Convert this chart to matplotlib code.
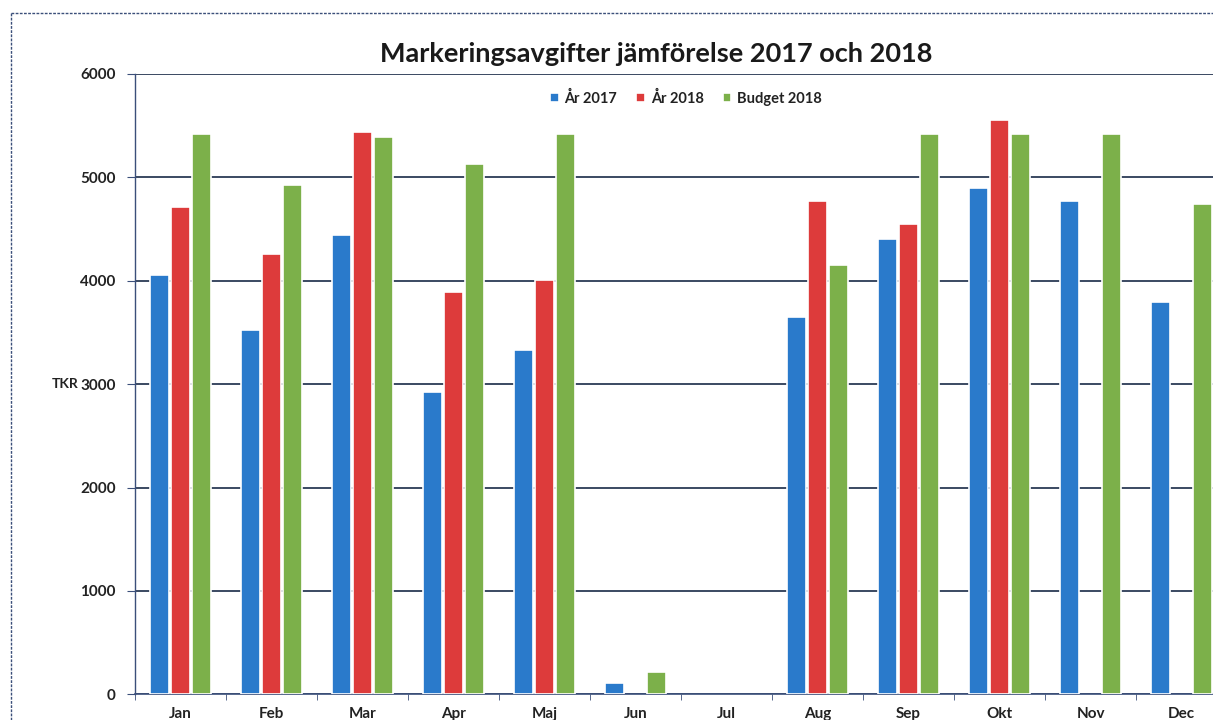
import numpy as np
import matplotlib
matplotlib.use("Agg")
import matplotlib.pyplot as plt
from matplotlib.lines import Line2D

# Data (TKR)
months = ["Jan", "Feb", "Mar", "Apr", "Maj", "Jun", "Jul", "Aug", "Sep", "Okt", "Nov", "Dec"]
year_2017 = [4055, 3520, 4440, 2920, 3330, 112, np.nan, 3645, 4400, 4900, 4775, 3795]
year_2018 = [4715, 4255, 5440, 3890, 4005, np.nan, np.nan, 4775, 4550, 5555, np.nan, np.nan]
budget_2018 = [5420, 4925, 5385, 5125, 5420, 213, np.nan, 4155, 5420, 5420, 5420, 4740]
y_ticks = [0, 1000, 2000, 3000, 4000, 5000, 6000]

plt.rcParams['font.family'] = ['Lato', 'DejaVu Sans']

fig = plt.figure(figsize=(12.13, 7.2), dpi=100)
W, H = 1213, 720

# plot area (extends a bit past the right edge, like the scan)
left, right, top, bottom = 135, 1227, 73.9, 694.3
ax = fig.add_axes([left / W, 1 - bottom / H, (right - left) / W, (bottom - top) / H])

x = np.arange(len(months))
bw = 0.21
off = 0.23
c_blue, c_red, c_green = "#2a7acb", "#dd3b3b", "#7cb04a"

ax.bar(x - off, year_2017, bw, color=c_blue, edgecolor="white", linewidth=1.2, zorder=3, label="År 2017")
ax.bar(x, year_2018, bw, color=c_red, edgecolor="white", linewidth=1.2, zorder=3, label="År 2018")
ax.bar(x + off, budget_2018, bw, color=c_green, edgecolor="white", linewidth=1.2, zorder=3, label="Budget 2018")

ax.set_xlim(-0.5, len(months) - 0.5)
ax.set_ylim(0, 6000)
ax.set_yticks(y_ticks)
ax.set_yticklabels([str(t) for t in y_ticks], fontsize=11, fontweight="bold", color="#222222")
ax.yaxis.grid(True, color="#2b3a55", linewidth=1.3, zorder=0)
ax.set_axisbelow(True)

# month labels centred, tick marks on category boundaries
ax.set_xticks(x)
ax.set_xticklabels(months, fontsize=11, fontweight="bold", color="#222222")
ax.tick_params(axis="x", length=0, pad=9)
ax.set_xticks(np.arange(-0.5, len(months), 1), minor=True)
ax.tick_params(axis="x", which="minor", length=4, color="#3b4f7a", direction="out")
ax.tick_params(axis="y", length=6, color="#3b4f7a", pad=8, direction="out")

for s in ["top", "right"]:
    ax.spines[s].set_visible(False)
ax.spines["left"].set_color("#3b4f7a")
ax.spines["bottom"].set_color("#3b4f7a")
ax.spines["left"].set_linewidth(1.0)
ax.spines["bottom"].set_linewidth(1.2)

# TKR axis label beside the 3000 tick
fig.text(65 / W, 1 - 384 / H, "TKR", fontsize=10, fontweight="bold", ha="center", va="center", color="#222222")

fig.text(656 / W, 1 - 54 / H, "Markeringsavgifter jämförelse 2017 och 2018",
         fontsize=19.5, fontweight="bold", ha="center", va="center", color="#1a1a1a")

leg = ax.legend(loc="center", bbox_to_anchor=(686 / W, 1 - 98 / H), bbox_transform=fig.transFigure,
                ncol=3, frameon=False, fontsize=10.5, handlelength=0.6, handleheight=0.6,
                handletextpad=0.4, columnspacing=1.3)
for t in leg.get_texts():
    t.set_fontweight("bold")
    t.set_color("#222222")

# outer chart border (dotted line of the scanned frame)
fig.add_artist(Line2D([11 / W, 1.0], [1 - 13 / H, 1 - 13 / H], transform=fig.transFigure,
                      color="#3b4f7a", linewidth=1.0, linestyle=(0, (2, 1))))
fig.add_artist(Line2D([11 / W, 11 / W], [0, 1 - 13 / H], transform=fig.transFigure,
                      color="#3b4f7a", linewidth=1.0, linestyle=(0, (2, 1))))

fig.savefig("out.png", dpi=100)
